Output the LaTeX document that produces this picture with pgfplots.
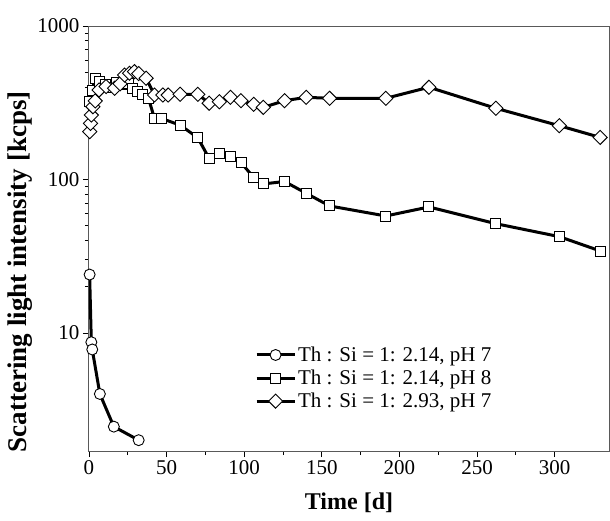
\documentclass[border=0pt]{standalone}
\usepackage{fontspec}
\setmainfont{Liberation Serif}
\usepackage{pgfplots}
\pgfplotsset{compat=1.18}
\begin{document}
\begin{tikzpicture}
\useasboundingbox (-89pt,-69pt) rectangle (521pt,451pt);
\begin{axis}[
  scale only axis, width=520pt, height=425pt,
  ymode=log, xmin=0, xmax=335, ymin=1.7, ymax=1000,
  xtick={0,50,...,300}, minor x tick num=1,
  ytick={10,100,1000}, log ticks with fixed point,
  /pgf/number format/assume math mode=true,
  /pgf/number format/1000 sep={},
  tick align=outside, xtick pos=left, ytick pos=left,
  major tick length=6pt, minor tick length=4pt,
  tick style={black, line width=0.8pt},
  axis line style={line width=1pt, black!65},
  ticklabel style={font=\fontsize{21}{24}\selectfont},
  xlabel={Time [d]}, ylabel={Scattering light intensity [kcps]},
  xlabel style={font=\bfseries\fontsize{24}{28}\selectfont, at={(axis description cs:0.5,-0.122)}, anchor=center},
  ylabel style={font=\bfseries\fontsize{27}{30}\selectfont, at={(axis description cs:-0.133,0.422)}, anchor=center},
  legend style={draw=none, fill=none, at={(rel axis cs:0.319,0.25)}, anchor=north west,
    font=\fontsize{21}{23}\selectfont, inner sep=0pt, row sep=3pt},
  legend cell align=left,
  legend image code/.code={\draw[mark repeat=2,mark phase=2,#1] plot coordinates {(0pt,0pt) (19pt,0pt) (38pt,0pt)};},
  every axis plot/.append style={line width=3pt, black},
  mk/.style={mark options={fill=white, draw=black, line width=0.9pt, solid, #1}},
  mk/.default={},
]
\addplot[mark=*, mark size=5.5pt, mk] coordinates {
(0.4,24) (1.5,8.7) (2.1,7.8) (7,4.0) (16,2.45) (32,2.0)
};
\addlegendentry{Th : Si = 1: 2.14, pH 7}
\addplot[mark=square*, mark size=5pt, mk] coordinates {
(0.5,320) (2,383) (4,455) (7,438) (10.3,413) (14,400) (18,430) (21.9,413) (25.1,424) (28.3,393) (31.5,373) (34.7,358) (38.3,338) (42.2,250) (46.5,250) (58.7,226) (70.1,187) (77.4,137) (84,148) (91.1,141) (97.9,129) (106.1,103) (112.3,93.5) (126,97) (139.9,81.3) (155,67.2) (191.2,57.8) (219,66.2) (262.1,51.5) (303,42.4) (329.4,34.2)
};
\addlegendentry{Th : Si = 1: 2.14, pH 8}
\addplot[mark=square*, mark size=5pt, mk={rotate=45}] coordinates {
(0.5,205) (1,232) (1.5,263) (2.5,298) (4,325) (6.5,383) (11,403) (16.5,393) (20,420) (22.9,479) (26.1,492) (29.3,504) (32,490) (36.8,457) (42.2,355) (47.6,355) (51,355) (58.7,359) (70.1,359) (77.4,314) (84,321) (91.1,343) (97.9,326) (106.1,309) (112.3,295) (126,326) (139.9,343) (155,338) (191.2,338) (219,399) (262.1,291) (303,224) (329.3,188)
};
\addlegendentry{Th : Si = 1: 2.93, pH 7}
\end{axis}
\end{tikzpicture}
\end{document}
